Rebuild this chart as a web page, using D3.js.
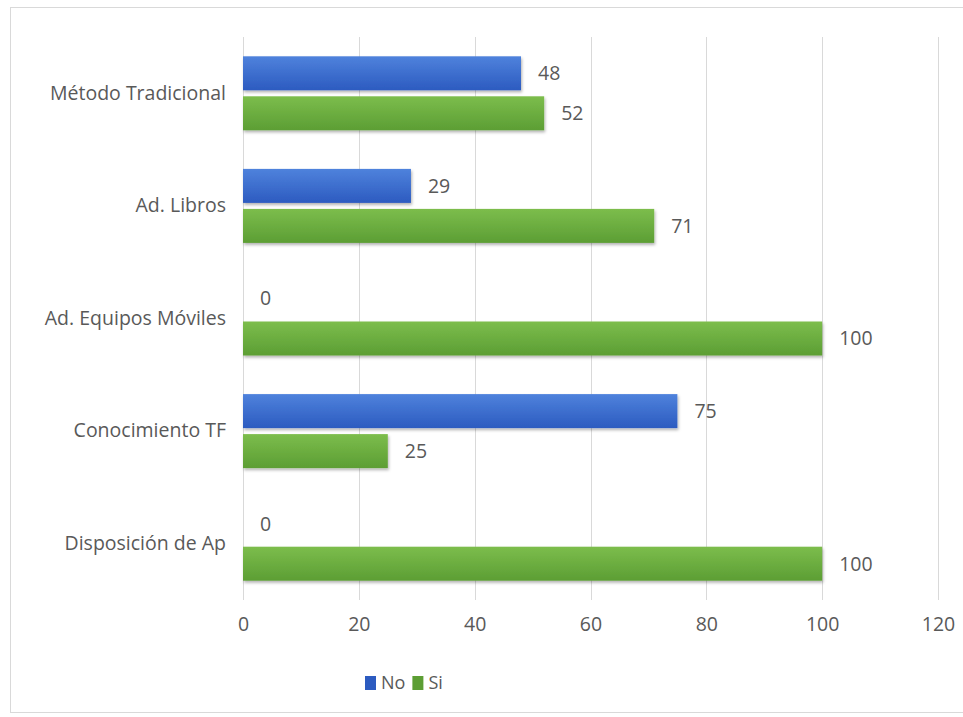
<!DOCTYPE html>
<html>
<head>
<meta charset="UTF-8">
<title>No / Si</title>
<script src="https://cdn.jsdelivr.net/npm/d3@7"></script>
<style>
  body { margin: 0; background: #fff; }
  text { font-family: "Open Sans", "Noto Sans", sans-serif; fill: #595959; }
</style>
</head>
<body>
<svg width="963" height="717"></svg>
<script>
// data
var categories = ["Método Tradicional", "Ad. Libros", "Ad. Equipos Móviles", "Conocimiento TF", "Disposición de Ap"];
var seriesNames = ["No", "Si"];
var noValues = [48, 29, 0, 75, 0];
var siValues = [52, 71, 100, 25, 100];
var xTicks = [0, 20, 40, 60, 80, 100, 120];

var colors = {No: ["#4f82dc", "#2c5bc0"], Si: ["#7cbd4c", "#5c9e34"]};
var fontSize = 19.5;

var svg = d3.select("svg");
var margin = {top: 37, left: 243, right: 25, bottom: 117};
var width = 938 - margin.left;
var height = 600 - margin.top;

// outer frame
svg.append("rect")
  .attr("x", 10.5).attr("y", 7.5)
  .attr("width", 960).attr("height", 705)
  .attr("fill", "none").attr("stroke", "#d9d9d9");

var defs = svg.append("defs");
seriesNames.forEach(function(s){
  var lg = defs.append("linearGradient").attr("id", "grad" + s)
    .attr("x1", 0).attr("y1", 0).attr("x2", 0).attr("y2", 1);
  lg.append("stop").attr("offset", "0%").attr("stop-color", colors[s][0]);
  lg.append("stop").attr("offset", "100%").attr("stop-color", colors[s][1]);
});
var f = defs.append("filter").attr("id", "shadow")
  .attr("x", "-5%").attr("y", "-20%").attr("width", "110%").attr("height", "150%");
f.append("feDropShadow").attr("dx", 1).attr("dy", 2).attr("stdDeviation", 1.5)
  .attr("flood-color", "#000").attr("flood-opacity", 0.3);

var g = svg.append("g").attr("transform", "translate(" + margin.left + "," + margin.top + ")");

var x = d3.scaleLinear().domain([0, 120]).range([0, width]);
var y = d3.scaleBand().domain(categories).range([0, height]);

// gridlines
g.append("g").selectAll("line")
  .data(xTicks)
  .enter()
  .append("line")
  .attr("x1", function(d){ return Math.round(x(d)) + 0.5; })
  .attr("x2", function(d){ return Math.round(x(d)) + 0.5; })
  .attr("y1", 0)
  .attr("y2", height)
  .attr("stroke", "#d9d9d9")
  .attr("stroke-width", 1);

// x axis labels
var xAxis = g.append("g")
  .attr("transform", "translate(0," + height + ")")
  .call(d3.axisBottom(x).tickValues(xTicks).tickSize(0).tickPadding(17));
xAxis.select(".domain").remove();
xAxis.selectAll("text")
  .attr("font-size", fontSize)
  .style("font-family", "'Open Sans', sans-serif")
  .attr("fill", "#595959");

// y axis labels
var yAxis = g.append("g")
  .call(d3.axisLeft(y).tickSize(0).tickPadding(17));
yAxis.select(".domain").remove();
yAxis.selectAll("text")
  .attr("font-size", fontSize)
  .style("font-family", "'Open Sans', sans-serif")
  .attr("fill", "#595959");

var barH = 34;
var innerGap = 6;
var rows = categories.map(function(c, i){
  return [
    {cat: c, series: "No", value: noValues[i], off: -innerGap / 2 - barH},
    {cat: c, series: "Si", value: siValues[i], off: innerGap / 2}
  ];
});
var flat = [].concat.apply([], rows);

function barY(d){ return y(d.cat) + y.bandwidth() / 2 + d.off; }

g.append("g").selectAll("rect")
  .data(flat.filter(function(d){ return d.value > 0; }))
  .enter()
  .append("rect")
  .attr("x", x(0))
  .attr("y", barY)
  .attr("width", function(d){ return x(d.value) - x(0); })
  .attr("height", barH)
  .attr("fill", function(d){ return "url(#grad" + d.series + ")"; })
  .attr("filter", "url(#shadow)");

// value labels
g.append("g").selectAll("text")
  .data(flat)
  .enter()
  .append("text")
  .attr("x", function(d){ return x(d.value) + 17; })
  .attr("y", function(d){ return barY(d) + barH / 2; })
  .attr("dy", "0.35em")
  .attr("font-size", fontSize)
  .text(function(d){ return d.value; });

// legend
var legend = svg.append("g").attr("transform", "translate(365,683)");
var lx = 0;
seriesNames.forEach(function(s){
  legend.append("rect")
    .attr("x", lx).attr("y", -7)
    .attr("width", 11).attr("height", 14)
    .attr("fill", colors[s][1]);
  var t = legend.append("text")
    .attr("x", lx + 16).attr("y", 0)
    .attr("dy", "0.35em")
    .attr("font-size", 18)
    .text(s);
  lx += 16 + t.node().getComputedTextLength() + 7;
});
</script>
</body>
</html>
